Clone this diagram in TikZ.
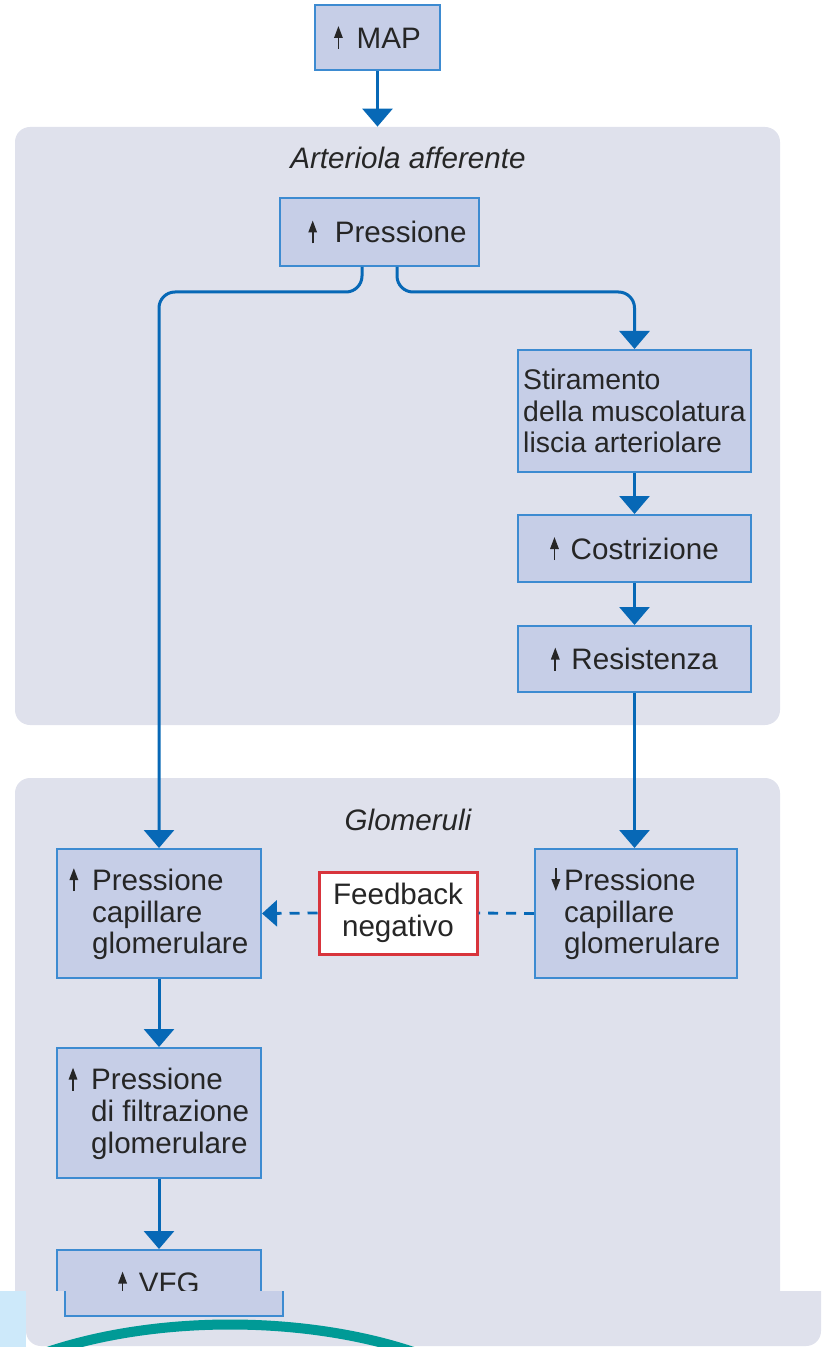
\documentclass[tikz,border=0pt]{standalone}
\usepackage{fontspec}
\setmainfont{Liberation Sans}
\usetikzlibrary{arrows.meta}

\definecolor{panelgray}{HTML}{DFE1EC}
\definecolor{boxfill}{HTML}{C6CEE7}
\definecolor{boxblue}{HTML}{3D8BD1}
\definecolor{flowblue}{HTML}{0768B6}
\definecolor{fbred}{HTML}{D8343C}
\definecolor{textgray}{HTML}{262626}
\definecolor{stripblue}{HTML}{CDE9FA}
\definecolor{arcteal}{HTML}{009A96}

\newcommand{\upar}{\tikz[baseline=0pt]\draw[textgray,line width=0.9pt,-{Triangle[width=4.2pt,length=6pt]}] (0,-0.3pt) -- (0,11.2pt);}
\newcommand{\dnar}{\tikz[baseline=0pt]\draw[textgray,line width=0.9pt,-{Triangle[width=4.2pt,length=6pt]}] (0,11.2pt) -- (0,-0.3pt);}
\newcommand{\ind}{\hphantom{\upar\hspace{7pt}}}

\begin{document}
\begin{tikzpicture}[x=0.5pt, y=-0.5pt, font=\fontsize{14.8}{15.8}\selectfont,
	flow/.style={draw=flowblue, line width=1.5pt, -{Triangle[width=15pt,length=9pt]}},
	fbline/.style={draw=flowblue, line width=1.4pt, dash pattern=on 5pt off 4pt},
	box/.style={draw=boxblue, line width=1pt, fill=boxfill, text=textgray, inner sep=2pt},
	fbbox/.style={draw=fbred, line width=1.5pt, fill=white, text=textgray, align=center, minimum width=79pt, minimum height=41pt},
	panel/.style={fill=panelgray, rounded corners=7.5pt, inner sep=0pt},
	title/.style={font=\fontsize{14.8}{15.8}\selectfont\itshape, text=textgray}]
	\useasboundingbox (0,0) rectangle (821,1347);

	% panels
	\node[panel, minimum width=382.5pt, minimum height=299pt] (arteriola) at (397.5,426) {};
	\node[panel, minimum width=382.5pt, minimum height=281pt] (glomeruli) at (397.5,1059) {};
	\node[title] (titleA) at (408,158) {Arteriola afferente};
	\node[title] (titleG) at (408,820) {Glomeruli};

	% boxes
	\node[box, minimum width=62.5pt, minimum height=32.5pt] (map) at (377.5,37.5) {\upar\hspace{7pt}MAP};
	\node[box, minimum width=99.5pt, minimum height=34pt] (press) at (379.5,232) {\hspace{8pt}\upar\hspace{9pt}Pressione};
	\node[box, minimum width=116.5pt, minimum height=61pt, align=left, inner xsep=1pt, font=\fontsize{14.2}{15.6}\selectfont] (stir) at (634.5,411) {Stiramento\\della muscolatura\\liscia arteriolare};
	\node[box, minimum width=116.5pt, minimum height=33.5pt] (costr) at (634.5,548.5) {\upar\hspace{6pt}Costrizione};
	\node[box, minimum width=116.5pt, minimum height=33pt] (resist) at (634.5,659) {\upar\hspace{6pt}Resistenza};
	\node[box, minimum width=102pt, minimum height=64.5pt, align=left] (capL) at (159,913.5) {\upar\hspace{7pt}Pressione\\\ind capillare\\\ind glomerulare};
	\node[box, minimum width=101pt, minimum height=64.5pt, align=left] (capR) at (636,913.5) {\dnar\hspace{2pt}Pressione\\\hphantom{\dnar\hspace{2pt}}capillare\\\hphantom{\dnar\hspace{2pt}}glomerulare};
	\node[fbbox] (fb) at (398,913) {Feedback\\negativo};
	\node[box, minimum width=102pt, minimum height=65pt, align=left] (filt) at (159,1113) {\upar\hspace{7pt}Pressione\\\ind di filtrazione\\\ind glomerulare};
	\node[box, minimum width=102pt, minimum height=33pt] (vfg) at (159,1283) {\upar\hspace{6pt}VFG};

	% connectors
	\draw[flow] (map) -- (map |- arteriola.north);
	\draw[flow, rounded corners=8pt] ([xshift=-8.75pt]press.south) |- ([yshift=-12.5pt]press.south -| capL.north) -- (capL.north);
	\draw[flow, rounded corners=8pt] ([xshift=8.75pt]press.south) |- ([yshift=-12.5pt]press.south -| stir.north) -- (stir.north);
	\draw[flow] (stir) -- (costr);
	\draw[flow] (costr) -- (resist);
	\draw[flow] (resist.south) -- (resist.south |- capR.north);
	\draw[flow] (capL) -- (filt);
	\draw[flow] (filt) -- (vfg);
	\draw[fbline] (capR.west) -- (fb.east);
	\draw[fbline, -{Triangle[width=13pt,length=7.5pt]}] (fb.west) -- (capL.east);

	% cut at the bottom
	\begin{scope}
		\clip (0,1291) rectangle (821,1347);
		\fill[white] (0,1291) rectangle (821,1347);
		\fill[stripblue] (0,1291) rectangle (26,1347);
		\fill[panelgray, rounded corners=7.5pt] (26,1250) rectangle (821,1346);
		\fill[boxfill] (65,1280) rectangle (283,1316);
		\draw[boxblue, line width=1pt] (65,1280) -- (65,1316) -- (283,1316) -- (283,1280);
		\draw[arcteal, line width=5pt] (36,1356) .. controls (150,1314) and (310,1314) .. (425,1356);
	\end{scope}
\end{tikzpicture}
\end{document}
